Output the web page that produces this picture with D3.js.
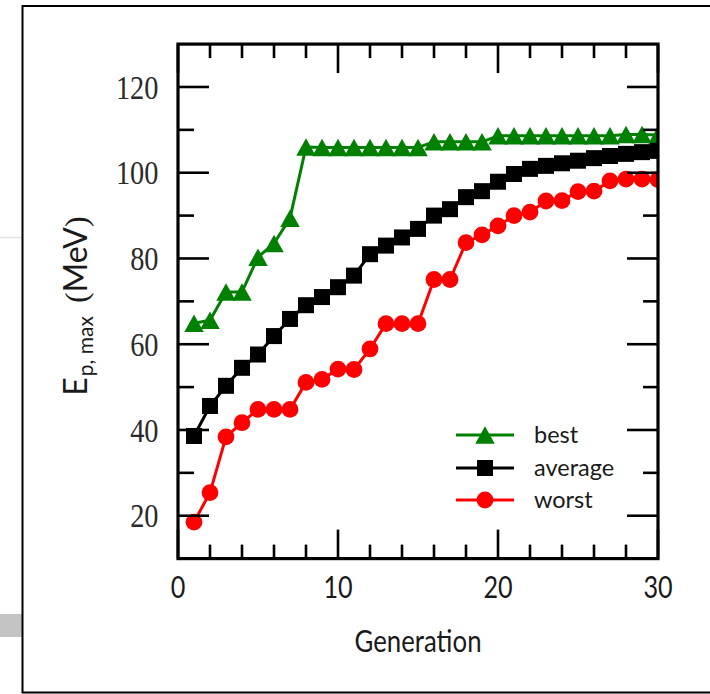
<!DOCTYPE html>
<html>
<head>
<meta charset="utf-8">
<script src="https://cdn.jsdelivr.net/npm/d3@7"></script>
<style>
  html, body { margin: 0; padding: 0; background: #fff; }
  svg { display: block; }
</style>
</head>
<body>
<svg id="chart" width="710" height="694"></svg>
<script>
// ---- data ----
const generations = [1,2,3,4,5,6,7,8,9,10,11,12,13,14,15,16,17,18,19,20,21,22,23,24,25,26,27,28,29,30];
const best    = [64.9,65.6,72.2,72.2,80.3,83.5,89.4,106.0,105.9,105.9,105.9,105.9,105.9,105.9,105.9,107.2,107.2,107.2,107.2,108.6,108.6,108.6,108.6,108.6,108.6,108.6,108.6,108.9,108.9,108.8];
const average = [38.6,45.6,50.3,54.5,57.6,61.9,65.9,69.1,71.0,73.3,76.0,81.0,83.0,84.9,86.9,90.0,91.5,94.3,95.7,97.9,99.7,100.9,101.6,102.2,102.8,103.4,103.9,104.4,104.8,105.1];
const worst   = [18.5,25.4,38.4,41.7,44.8,44.8,44.8,51.1,51.8,54.2,54.1,58.9,64.8,64.8,64.8,75.1,75.1,83.7,85.5,87.6,90.0,90.8,93.4,93.5,95.6,95.7,98.1,98.5,98.5,98.4];
const seriesNames = ["best", "average", "worst"];
const xTickLabels = [0, 10, 20, 30];
const yTickLabels = [20, 40, 60, 80, 100, 120];
const xMinorTicks = [2,4,6,8,12,14,16,18,22,24,26,28];
const yMinorTicks = [30,50,70,90,110];

// ---- layout ----
const svg = d3.select("#chart");
const L = 178, R = 658, T = 44.1, B = 558.6;
const x = d3.scaleLinear().domain([0, 30]).range([L, R]);
const y = d3.scaleLinear().domain([10, 130]).range([B, T]);
const SANS = "Lato, 'Open Sans', sans-serif";
const SERIF = "'Liberation Serif', 'DejaVu Serif', serif";

// page decorations (frame and side strips)
svg.append("rect").attr("x", 0).attr("y", 0).attr("width", 710).attr("height", 694).attr("fill", "#fff");
svg.append("line").attr("x1", 0).attr("x2", 22).attr("y1", 237.5).attr("y2", 237.5)
   .attr("stroke", "#e2e2e2").attr("stroke-width", 1.5);
svg.append("rect").attr("x", 0).attr("y", 614).attr("width", 22).attr("height", 23).attr("fill", "#c4c4c4");
svg.append("rect").attr("x", 22.5).attr("y", 6).attr("width", 720).attr("height", 686.5)
   .attr("fill", "none").attr("stroke", "#000").attr("stroke-width", 2);

// clip for plot
svg.append("defs").append("clipPath").attr("id", "plotclip")
   .append("rect").attr("x", L).attr("y", T).attr("width", R - L).attr("height", B - T);

// ---- series ----
const series = [
  { name: seriesNames[0], values: best, color: "#008000", marker: "triangle" },
  { name: seriesNames[1], values: average, color: "#000000", marker: "square" },
  { name: seriesNames[2], values: worst, color: "#ff0000", marker: "circle" }
];

function drawMarker(g, type, cx, cy, color) {
  if (type === "triangle") {
    const h = 17.5, w = 19.5;
    g.append("path")
      .attr("d", `M${cx},${cy - h/2}L${cx + w/2},${cy + h/2}L${cx - w/2},${cy + h/2}Z`)
      .attr("fill", color);
  } else if (type === "square") {
    const s = 16;
    g.append("rect").attr("x", cx - s/2).attr("y", cy - s/2).attr("width", s).attr("height", s).attr("fill", color);
  } else {
    g.append("circle").attr("cx", cx).attr("cy", cy).attr("r", 8.4).attr("fill", color);
  }
}

const plot = svg.append("g").attr("clip-path", "url(#plotclip)");
const line = d3.line().x((d, i) => x(generations[i])).y(d => y(d));
series.forEach(s => {
  const g = plot.append("g");
  g.append("path").datum(s.values).attr("d", line)
    .attr("fill", "none").attr("stroke", s.color).attr("stroke-width", 3).attr("stroke-linejoin", "round");
  s.values.forEach((v, i) => drawMarker(g, s.marker, x(generations[i]), y(v), s.color));
});

// ---- axes frame & ticks ----
const axes = svg.append("g").attr("stroke", "#000");
const tw = 2.6;
xTickLabels.forEach(v => {
  axes.append("line").attr("x1", x(v)).attr("x2", x(v)).attr("y1", B).attr("y2", B - 29).attr("stroke-width", tw);
  axes.append("line").attr("x1", x(v)).attr("x2", x(v)).attr("y1", T).attr("y2", T + 29).attr("stroke-width", tw);
});
xMinorTicks.forEach(v => {
  axes.append("line").attr("x1", x(v)).attr("x2", x(v)).attr("y1", B).attr("y2", B - 14).attr("stroke-width", tw);
  axes.append("line").attr("x1", x(v)).attr("x2", x(v)).attr("y1", T).attr("y2", T + 14).attr("stroke-width", tw);
});
yTickLabels.forEach(v => {
  axes.append("line").attr("x1", L).attr("x2", L + 31).attr("y1", y(v)).attr("y2", y(v)).attr("stroke-width", tw);
  axes.append("line").attr("x1", R).attr("x2", R - 31).attr("y1", y(v)).attr("y2", y(v)).attr("stroke-width", tw);
});
yMinorTicks.forEach(v => {
  axes.append("line").attr("x1", L).attr("x2", L + 16).attr("y1", y(v)).attr("y2", y(v)).attr("stroke-width", tw);
  axes.append("line").attr("x1", R).attr("x2", R - 15).attr("y1", y(v)).attr("y2", y(v)).attr("stroke-width", tw);
});
axes.append("rect").attr("x", L).attr("y", T).attr("width", R - L).attr("height", B - T)
  .attr("fill", "none").attr("stroke-width", 3.2);

// ---- tick labels ----
yTickLabels.forEach(v => {
  svg.append("text")
    .attr("transform", `translate(158.5,${y(v) + 1}) scale(0.86,1)`)
    .attr("text-anchor", "end").attr("dominant-baseline", "central")
    .attr("font-family", SERIF)
    .attr("font-size", 33).attr("fill", "#2a2a2a").text(v);
});
xTickLabels.forEach(v => {
  svg.append("text")
    .attr("transform", `translate(${x(v)},598) scale(0.84,1)`)
    .attr("text-anchor", "middle")
    .attr("font-family", SANS)
    .attr("font-size", 30).attr("fill", "#1a1a1a").text(v);
});

// ---- axis titles ----
svg.append("text")
  .attr("transform", "translate(418,652) scale(0.86,1)")
  .attr("text-anchor", "middle")
  .attr("font-family", SANS)
  .attr("font-size", 30).attr("fill", "#1a1a1a").text("Generation");

const yl = svg.append("text")
  .attr("transform", "translate(87,306) rotate(-90)")
  .attr("text-anchor", "middle")
  .attr("font-family", SANS)
  .attr("font-size", 32).attr("fill", "#1a1a1a");
yl.append("tspan").text("E");
yl.append("tspan").attr("font-size", 21).attr("dy", 6).attr("dx", 1).text("p, max");
yl.append("tspan").attr("dy", -6).attr("dx", 13)
  .attr("font-family", SERIF).text("(");
yl.append("tspan").text("MeV");
yl.append("tspan").attr("font-family", SERIF).text(")");

// ---- legend ----
const legendRows = [435, 468, 500];
series.forEach((s, i) => {
  const g = svg.append("g");
  const cy = legendRows[i];
  g.append("line").attr("x1", 456).attr("x2", 514).attr("y1", cy).attr("y2", cy)
    .attr("stroke", s.color).attr("stroke-width", 3);
  drawMarker(g, s.marker, 485, cy, s.color);
  g.append("text").attr("x", 534).attr("y", cy + 8)
    .attr("font-family", SANS)
    .attr("font-size", 23.5).attr("fill", "#1a1a1a").text(s.name);
});
</script>
</body>
</html>
